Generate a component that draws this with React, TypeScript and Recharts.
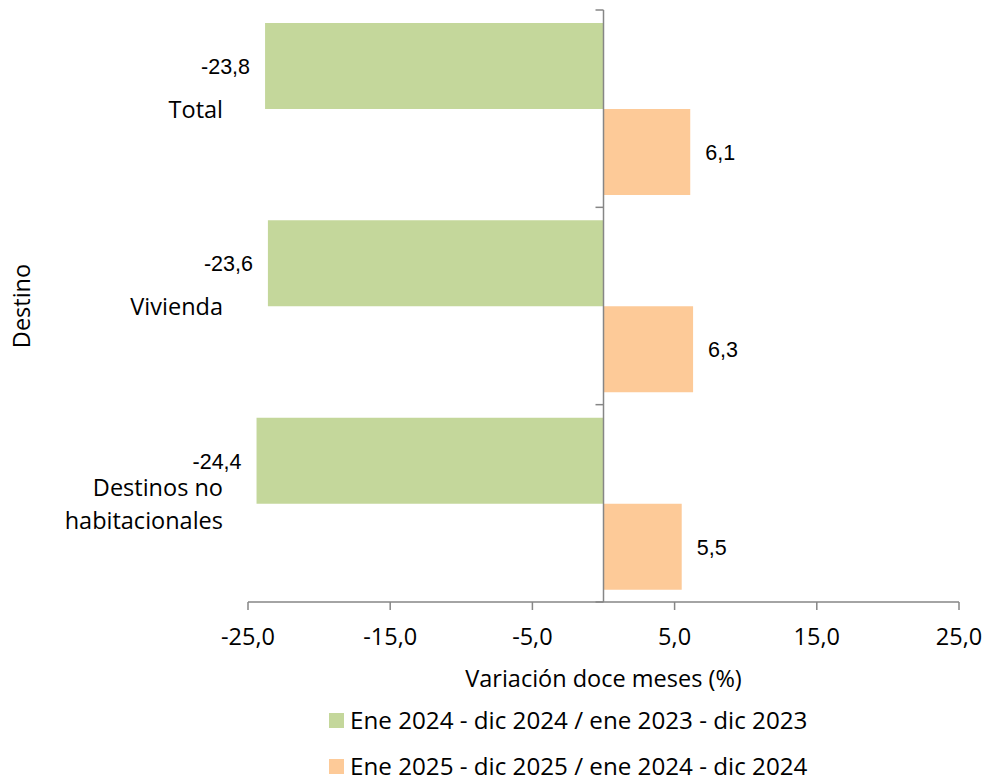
import React from "react";
import {
  BarChart,
  Bar,
  XAxis,
  YAxis,
  ReferenceLine,
  LabelList,
  Legend,
} from "recharts";

// categorias (eje vertical)
const categories = ["Total", "Vivienda", "Destinos no habitacionales"];

// variacion doce meses (%)
const serie2024 = [-23.8, -23.6, -24.4];
const serie2025 = [6.1, 6.3, 5.5];

const seriesNames = [
  "Ene 2024 - dic 2024 / ene 2023 - dic 2023",
  "Ene 2025 - dic 2025 / ene 2024 - dic 2024",
];

const xTicks = [-25, -15, -5, 5, 15, 25];

const GREEN = "#c4d79b";
const ORANGE = "#fdca98";
const AXIS = "#868686";
const FONT = "'Open Sans', 'Noto Sans', sans-serif";

const data = categories.map((c, i) => ({
  destino: c,
  a2024: serie2024[i],
  a2025: serie2025[i],
}));

const fmt = (v: number) => v.toFixed(1).replace(".", ",");

const wrap = (s: string, max = 14) => {
  const words = s.split(" ");
  const lines: string[] = [];
  let cur = "";
  words.forEach((w) => {
    const next = cur ? cur + " " + w : w;
    if (next.length > max && cur) {
      lines.push(cur);
      cur = w;
    } else {
      cur = next;
    }
  });
  if (cur) lines.push(cur);
  return lines;
};

const CategoryTick = (props: any) => {
  const { x, y, payload } = props;
  const lines = wrap(String(payload.value));
  const lh = 33;
  const start = y - ((lines.length - 1) * lh) / 2;
  return (
    <text
      textAnchor="end"
      fontFamily={FONT}
      fontSize={23.5}
      fill="#000"
      dominantBaseline="central"
    >
      {lines.map((l, i) => (
        <tspan key={i} x={x} y={start + i * lh}>
          {l}
        </tspan>
      ))}
    </text>
  );
};

const ValueLabel = (props: any) => {
  const x = Number(props.x);
  const y = Number(props.y);
  const width = Number(props.width);
  const height = Number(props.height);
  const value = Number(props.value);
  const left = Math.min(x, x + width);
  const right = Math.max(x, x + width);
  const neg = value < 0;
  return (
    <text
      x={neg ? left - 15 : right + 15}
      y={y + height / 2 + 1}
      textAnchor={neg ? "end" : "start"}
      dominantBaseline="central"
      fontFamily="'Liberation Sans', Arial, sans-serif"
      fontSize={21.5}
      fill="#000"
    >
      {fmt(value)}
    </text>
  );
};

// linea del cero con marcas en los limites de cada categoria
const ZeroLine = (props: any) => {
  const { x1, y1, x2, y2 } = props;
  const top = Math.min(y1, y2);
  const bottom = Math.max(y1, y2);
  const n = categories.length;
  const marks = [];
  for (let i = 0; i <= n; i++) {
    const yy = top + ((bottom - top) * i) / n;
    marks.push(
      <line key={i} x1={x1 - 8} x2={x1} y1={yy} y2={yy} stroke={AXIS} strokeWidth={1.5} />
    );
  }
  return (
    <g>
      <line x1={x1} y1={y1} x2={x2} y2={y2} stroke={AXIS} strokeWidth={1.5} />
      {marks}
    </g>
  );
};

const LegendContent = (props: any) => {
  const { payload } = props;
  return (
    <div
      style={{
        height: 83,
        paddingLeft: 329,
        fontFamily: FONT,
        fontSize: 24.2,
        lineHeight: 1,
      }}
    >
      {(payload || []).map((p: any, i: number) => (
        <div
          key={i}
          style={{ height: 46, display: "flex", alignItems: "center", color: "#000" }}
        >
          <span
            style={{
              display: "inline-block",
              width: 15,
              height: 15,
              background: p.color,
              marginRight: 6,
            }}
          />
          <span style={{ lineHeight: 1 }}>{p.value}</span>
        </div>
      ))}
    </div>
  );
};

export default function App() {
  return (
    <div style={{ position: "absolute", left: 0, top: 0 }}>
      <BarChart
        width={984}
        height={780}
        data={data}
        layout="vertical"
        margin={{ top: 10, right: 25, bottom: 0, left: 0 }}
        barGap={0}
        barSize={86}
      >
        <XAxis
          type="number"
          domain={[-25, 25]}
          ticks={xTicks}
          tickFormatter={fmt}
          stroke={AXIS}
          strokeWidth={1.5}
          tickSize={8}
          tickMargin={18}
          height={95}
          tick={{ fill: "#000", fontSize: 23.5, fontFamily: FONT }}
          label={{
            value: "Variación doce meses (%)",
            position: "insideBottom",
            offset: 10,
            fill: "#000",
            fontSize: 23.5,
            fontFamily: FONT,
          }}
        />
        <YAxis
          type="category"
          dataKey="destino"
          width={248}
          axisLine={false}
          tickLine={false}
          tickSize={0}
          tickMargin={25}
          tick={<CategoryTick />}
          label={{
            value: "Destino",
            angle: -90,
            position: "insideLeft",
            offset: 22,
            fill: "#000",
            fontSize: 23.5,
            fontFamily: FONT,
            style: { textAnchor: "middle" },
          }}
        />
        <Legend verticalAlign="bottom" content={<LegendContent />} />
        <Bar dataKey="a2024" name={seriesNames[0]} fill={GREEN} isAnimationActive={false}>
          <LabelList dataKey="a2024" content={<ValueLabel />} />
        </Bar>
        <Bar dataKey="a2025" name={seriesNames[1]} fill={ORANGE} isAnimationActive={false}>
          <LabelList dataKey="a2025" content={<ValueLabel />} />
        </Bar>
        <ReferenceLine x={0} stroke={AXIS} shape={<ZeroLine />} />
      </BarChart>
    </div>
  );
}
